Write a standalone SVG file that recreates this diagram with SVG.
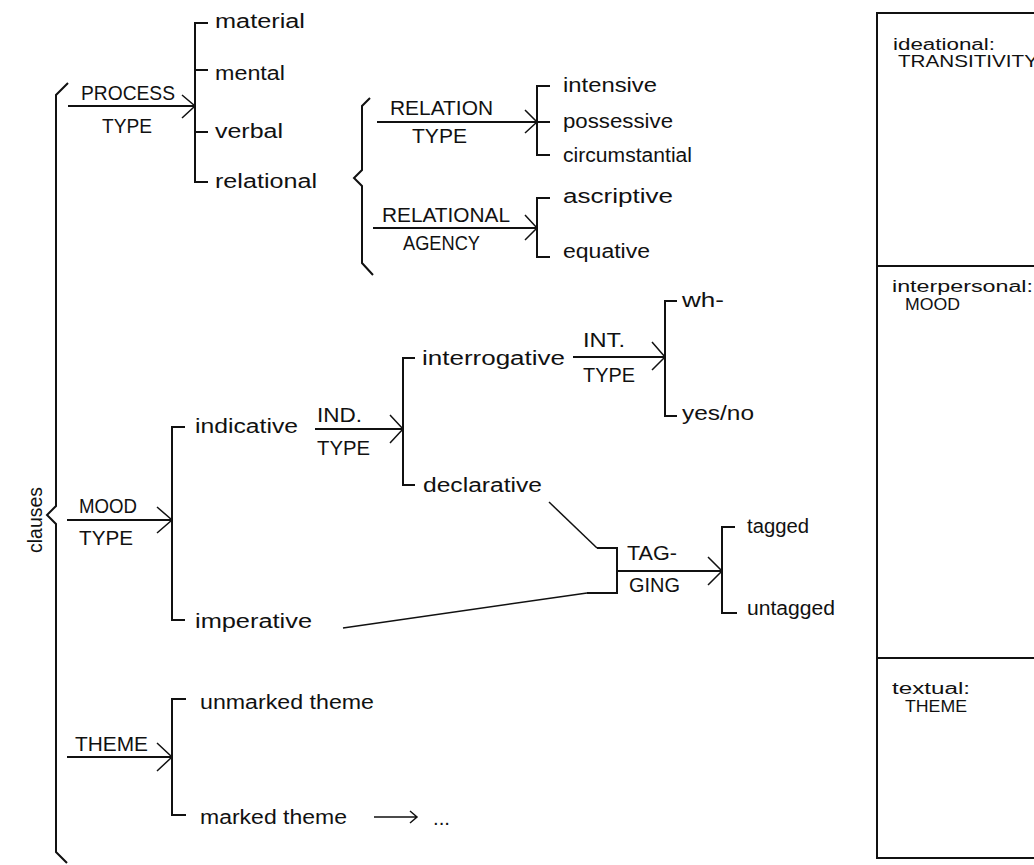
<svg xmlns="http://www.w3.org/2000/svg" width="1034" height="865" viewBox="0 0 1034 865">
<style>
.t{font-family:"Liberation Sans",Arial,sans-serif;font-size:20px;fill:#111}
.s{font-family:"Liberation Sans",Arial,sans-serif;font-size:16px;fill:#111}
.c{font-family:"Liberation Sans",Arial,sans-serif;font-size:17px;fill:#111}
.ln{fill:none;stroke:#111;stroke-width:2}
.ah{fill:none;stroke:#111;stroke-width:1.5}
.bx{fill:none;stroke:#111;stroke-width:2}
</style>
<rect x="0" y="0" width="1034" height="865" fill="#fff"/>

<g id="connectors">
  <path class="ln" d="M68,83 L56,95 L56,506 L47,515 L56,524 L56,852 L67,863"/>
  <path class="ln" d="M68,106 H195"/>
  <path class="ah" d="M182,95 L195,106 L182,118"/>
  <path class="ln" d="M208,23 H195 V182 H208 M195,70 H208 M195,132 H208"/>
  <path class="ln" d="M370,98 L362,106 L362,170 L354,178 L362,186 L362,263 L373,275"/>
  <path class="ln" d="M377,122 H537"/>
  <path class="ah" d="M525,110 L537,122 L525,133"/>
  <path class="ln" d="M550,86 H537 V155 H550 M537,122 H550"/>
  <path class="ln" d="M373,228 H537"/>
  <path class="ah" d="M525,215 L537,228 L525,240"/>
  <path class="ln" d="M550,198 H537 V257 H550"/>
  <path class="ln" d="M67,520 H172"/>
  <path class="ah" d="M157,507 L172,520 L157,533"/>
  <path class="ln" d="M185,427 H172 V620 H185"/>
  <path class="ln" d="M315,429 H403"/>
  <path class="ah" d="M390,415 L403,429 L390,443"/>
  <path class="ln" d="M415,358 H403 V485 H415"/>
  <path class="ln" d="M573,357 H665"/>
  <path class="ah" d="M652,342 L665,357 L652,370"/>
  <path class="ln" d="M677,301 H665 V416 H677"/>
  <path class="ah" d="M549,502 L597,548"/>
  <path class="ln" d="M597,548 H617 V593 H587"/>
  <path class="ah" d="M587,593 L343,628"/>
  <path class="ln" d="M617,571 H722"/>
  <path class="ah" d="M708,557 L722,571 L708,585"/>
  <path class="ln" d="M735,527 H722 V613 H737"/>
  <path class="ln" d="M67,757 H172"/>
  <path class="ah" d="M157,743 L172,757 L157,771"/>
  <path class="ln" d="M186,699 H172 V815 H186"/>
  <path class="ah" d="M374,817 H417 M410,811 L417,817 L410,823"/>
</g>

<g id="clauses"><text class="t" transform="translate(42,553) rotate(-90)" textLength="66" lengthAdjust="spacingAndGlyphs">clauses</text></g>

<g id="process-type">
  <text class="t" x="81" y="100" textLength="94" lengthAdjust="spacingAndGlyphs">PROCESS</text>
  <text class="t" x="102" y="133" textLength="50" lengthAdjust="spacingAndGlyphs">TYPE</text>
</g>
<g id="material"><text class="t" x="215" y="28" textLength="90" lengthAdjust="spacingAndGlyphs">material</text></g>
<g id="mental"><text class="t" x="215" y="80" textLength="70" lengthAdjust="spacingAndGlyphs">mental</text></g>
<g id="verbal"><text class="t" x="215" y="138" textLength="68" lengthAdjust="spacingAndGlyphs">verbal</text></g>
<g id="relational"><text class="t" x="215" y="188" textLength="102" lengthAdjust="spacingAndGlyphs">relational</text></g>

<g id="relation-type">
  <text class="t" x="390" y="115" textLength="103" lengthAdjust="spacingAndGlyphs">RELATION</text>
  <text class="t" x="412" y="143" textLength="55" lengthAdjust="spacingAndGlyphs">TYPE</text>
</g>
<g id="intensive"><text class="t" x="563" y="92" textLength="94" lengthAdjust="spacingAndGlyphs">intensive</text></g>
<g id="possessive"><text class="t" x="563" y="128" textLength="110" lengthAdjust="spacingAndGlyphs">possessive</text></g>
<g id="circumstantial"><text class="t" x="563" y="162" textLength="129" lengthAdjust="spacingAndGlyphs">circumstantial</text></g>

<g id="relational-agency">
  <text class="t" x="382" y="222" textLength="128" lengthAdjust="spacingAndGlyphs">RELATIONAL</text>
  <text class="t" x="403" y="250" textLength="77" lengthAdjust="spacingAndGlyphs">AGENCY</text>
</g>
<g id="ascriptive"><text class="t" x="563" y="203" textLength="110" lengthAdjust="spacingAndGlyphs">ascriptive</text></g>
<g id="equative"><text class="t" x="563" y="258" textLength="87" lengthAdjust="spacingAndGlyphs">equative</text></g>

<g id="mood-type">
  <text class="t" x="79" y="513" textLength="58" lengthAdjust="spacingAndGlyphs">MOOD</text>
  <text class="t" x="79" y="545" textLength="54" lengthAdjust="spacingAndGlyphs">TYPE</text>
</g>
<g id="indicative"><text class="t" x="195" y="433" textLength="103" lengthAdjust="spacingAndGlyphs">indicative</text></g>
<g id="imperative"><text class="t" x="195" y="628" textLength="117" lengthAdjust="spacingAndGlyphs">imperative</text></g>

<g id="ind-type">
  <text class="t" x="317" y="422" textLength="45" lengthAdjust="spacingAndGlyphs">IND.</text>
  <text class="t" x="317" y="455" textLength="53" lengthAdjust="spacingAndGlyphs">TYPE</text>
</g>
<g id="interrogative"><text class="t" x="422" y="365" textLength="143" lengthAdjust="spacingAndGlyphs">interrogative</text></g>
<g id="declarative"><text class="t" x="423" y="492" textLength="119" lengthAdjust="spacingAndGlyphs">declarative</text></g>

<g id="int-type">
  <text class="t" x="583" y="347" textLength="42" lengthAdjust="spacingAndGlyphs">INT.</text>
  <text class="t" x="583" y="382" textLength="52" lengthAdjust="spacingAndGlyphs">TYPE</text>
</g>
<g id="wh"><text class="t" x="682" y="307" textLength="42" lengthAdjust="spacingAndGlyphs">wh-</text></g>
<g id="yes-no"><text class="t" x="682" y="420" textLength="72" lengthAdjust="spacingAndGlyphs">yes/no</text></g>

<g id="tagging">
  <text class="t" x="627" y="560" textLength="50" lengthAdjust="spacingAndGlyphs">TAG-</text>
  <text class="t" x="629" y="592" textLength="51" lengthAdjust="spacingAndGlyphs">GING</text>
</g>
<g id="tagged"><text class="t" x="747" y="533" textLength="62" lengthAdjust="spacingAndGlyphs">tagged</text></g>
<g id="untagged"><text class="t" x="747" y="615" textLength="88" lengthAdjust="spacingAndGlyphs">untagged</text></g>

<g id="theme">
  <text class="t" x="75" y="751" textLength="73" lengthAdjust="spacingAndGlyphs">THEME</text>
</g>
<g id="unmarked-theme"><text class="t" x="200" y="709" textLength="174" lengthAdjust="spacingAndGlyphs">unmarked theme</text></g>
<g id="marked-theme"><text class="t" x="200" y="824" textLength="147" lengthAdjust="spacingAndGlyphs">marked theme</text></g>
<g id="ellipsis"><text class="t" x="433" y="825" textLength="17" lengthAdjust="spacingAndGlyphs">...</text></g>

<g id="metafunctions">
  <rect class="bx" x="877" y="13" width="170" height="845"/>
  <line class="bx" x1="877" y1="266" x2="1040" y2="266"/>
  <line class="bx" x1="877" y1="658" x2="1040" y2="658"/>
  <g id="ideational">
    <text class="s" x="893" y="50" textLength="102" lengthAdjust="spacingAndGlyphs">ideational:</text>
    <text class="c" x="898" y="67" textLength="140" lengthAdjust="spacingAndGlyphs">TRANSITIVITY</text>
  </g>
  <g id="interpersonal">
    <text class="s" x="892" y="292" textLength="141" lengthAdjust="spacingAndGlyphs">interpersonal:</text>
    <text class="c" x="905" y="310" textLength="55" lengthAdjust="spacingAndGlyphs">MOOD</text>
  </g>
  <g id="textual">
    <text class="s" x="892" y="694" textLength="78" lengthAdjust="spacingAndGlyphs">textual:</text>
    <text class="c" x="905" y="712" textLength="62" lengthAdjust="spacingAndGlyphs">THEME</text>
  </g>
</g>
</svg>
